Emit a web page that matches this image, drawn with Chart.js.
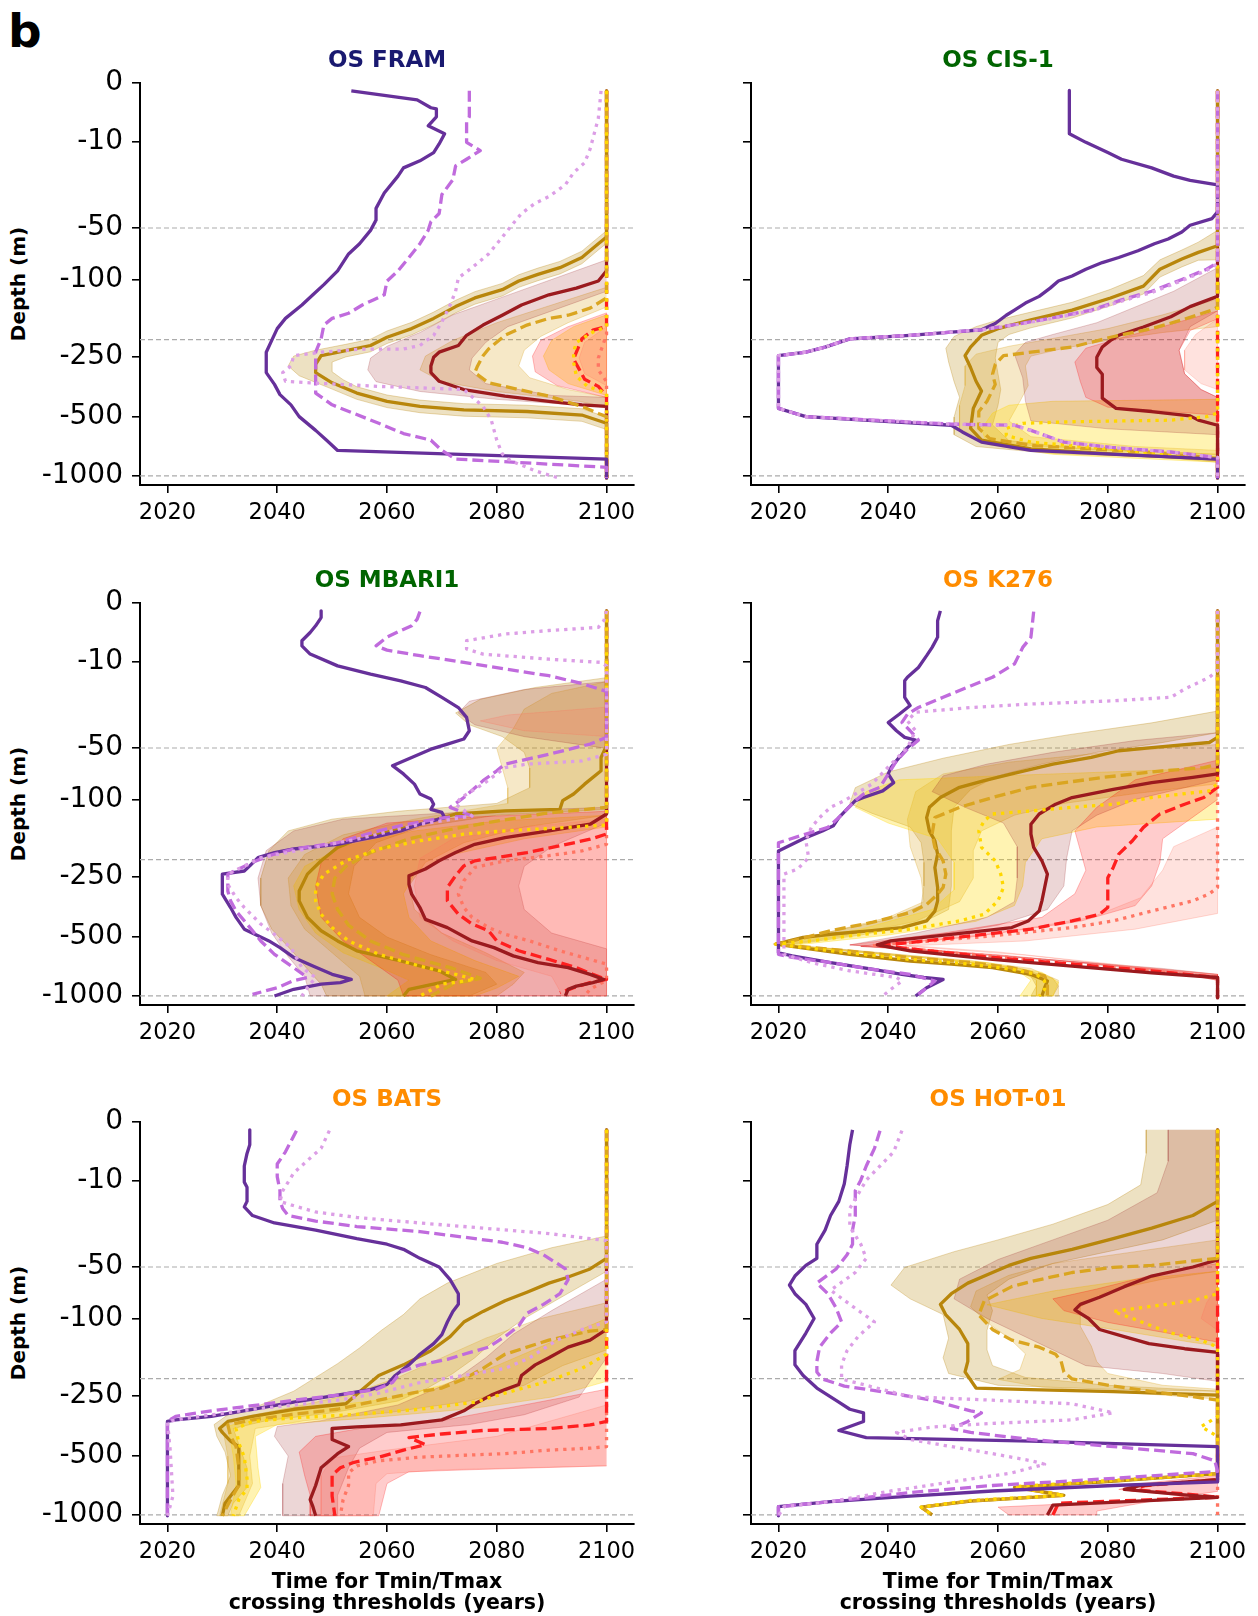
<!DOCTYPE html>
<html>
<head>
<meta charset="utf-8">
<script src="https://cdn.jsdelivr.net/npm/chart.js@4.4.1/dist/chart.umd.min.js"></script>
<style>
  body { margin: 0; background: #fff; width: 1258px; height: 1616px; position: relative; overflow: hidden; font-family: 'DejaVu Sans', sans-serif; }
  canvas { position: absolute; }
  .txt { position: absolute; line-height: 1; white-space: nowrap; font-weight: bold; transform: translate(-50%, -50%); }
</style>
</head>
<body>
<div class="txt" style="left:8px;top:30px;font-size:47px;transform:translate(0,-50%);">b</div>
<script>
// ---- axis data ----
const yearTicks = [2020, 2040, 2060, 2080, 2100];
const depthTickPos = [0, 15, 36.9, 50, 69.6, 84.9, 100];
const depthTickLabels = ['0', '-10', '-50', '-100', '-250', '-500', '-1000'];
const refLinePos = [36.9, 65.3, 100];
const stationNames = ['OS FRAM', 'OS CIS-1', 'OS MBARI1', 'OS K276', 'OS BATS', 'OS HOT-01'];
const stationColors = ['#191970', '#006400', '#006400', '#ff8c00', '#ff8c00', '#ff8c00'];

// ---- OS FRAM ----  [year, depth level]
const framPurpleSolid = [[2053.5,2],[2065.5,4.3],[2068,6.3],[2069,6.6],[2069,8.6],[2067.5,10.9],[2070.5,12.9],[2069.5,15.5],[2068.5,17.7],[2066,19.8],[2063,21.6],[2062,23.7],[2059.5,28],[2058,31.9],[2058,34.9],[2057,37.5],[2055,40.9],[2053,43.5],[2051,47.8],[2048.5,51.3],[2046.5,53.9],[2044.5,56.5],[2041.5,59.9],[2040,62.5],[2039,65.5],[2038,68.5],[2038,71.1],[2038,73.7],[2039.5,76.7],[2040.5,79.3],[2042.5,81.9],[2044,84.9],[2047,88.4],[2049,90.9],[2051,93.5],[2100,95.7],[2100,100.5]];
const framPurpleDash = [[2075,2],[2075,8.6],[2074.5,9.9],[2074.5,15.1],[2077,17.2],[2074.5,19.4],[2072.5,21.1],[2072,24.6],[2070,28.4],[2069.5,33.2],[2068,35.3],[2067.5,37.5],[2066,40.9],[2064,44.4],[2062,47.8],[2060,50.4],[2059.5,53.9],[2057.5,55.2],[2055.5,56.5],[2053,58.6],[2050,59.9],[2048.5,61.6],[2048,65.1],[2047,68.5],[2047,73.7],[2047,78.9],[2050,81.9],[2054,84.1],[2058.5,86.6],[2063,89.2],[2068,90.9],[2070,93.5],[2072.5,95.7],[2100,97.8],[2100,100.5]];
const framPurpleDot = [[2099,2],[2098.5,9],[2097,16.8],[2096,20.3],[2094,22.8],[2092.5,25.9],[2089.5,28.9],[2087,30.6],[2084.5,33.2],[2082.5,36.6],[2080.5,40.1],[2078.5,43.5],[2075.5,47],[2073,49.6],[2072.5,53],[2071.5,56.5],[2070,60.8],[2068.5,64.2],[2066,66.8],[2063,67.7],[2055.5,67.7],[2048,68.5],[2043,69.4],[2042.5,72],[2041,73.7],[2041.5,75.9],[2046,76.3],[2058.5,77.2],[2074,78],[2077.5,82.3],[2079,85.8],[2080,90.9],[2081,94.4],[2082.5,96.1],[2087,98.7],[2091,100.4]];
const framGoldSolid = [[2100,2],[2100,39.2],[2098.5,40.9],[2095.5,44.4],[2091.5,47],[2087.5,48.7],[2084,50.4],[2081,52.6],[2076,54.7],[2072.5,56.9],[2068.5,59.9],[2064.5,62.5],[2060,64.7],[2057,66.8],[2052.5,68.1],[2048,69.4],[2047,71.6],[2047,73.7],[2050,76.3],[2054.5,78.9],[2060,81],[2066,82.3],[2074,83.2],[2085.5,83.6],[2095.5,84.5],[2100,86.6],[2100,100.5]];
const framGoldDash = [[2100,2],[2100,54.7],[2097,57.3],[2093,59.1],[2089.5,59.9],[2085.5,61.6],[2081.5,64.2],[2078.5,67.7],[2077.5,69.4],[2076.5,72],[2076,73.7],[2078.5,76.3],[2084,78],[2089.5,79.7],[2095.5,82.3],[2098.5,84.1],[2100,84.9],[2100,100.5]];
const framYellowDot = [[2100,2],[2100,62],[2097.5,63.4],[2094.5,66],[2094,68.5],[2094,71.1],[2094.5,74.6],[2096.5,77.2],[2100,78.9],[2100,100.5]];
const framRedSolid = [[2100,2],[2100,47.8],[2098.5,50.4],[2094.5,52.2],[2089.5,53.9],[2084.5,56.5],[2081,59.1],[2077.5,61.6],[2074.5,64.2],[2073,66.8],[2069.5,68.5],[2068.5,69.8],[2068,72],[2068,73.7],[2069.5,75.9],[2074,78],[2081.5,79.7],[2089.5,81],[2095.5,81.9],[2100,82.3],[2100,100.5]];
const framRedDash = [[2100,2],[2100,62],[2097.5,62.9],[2095.5,65.1],[2094.5,68.5],[2094,70.3],[2095,72.8],[2096,75.4],[2098.5,77.2],[2100,79.7],[2100,100.5]];
const framRedDot = [[2100,2],[2100,64],[2098.5,70],[2098.5,73],[2100,76],[2100,100.5]];
const framGoldSolidLo = [[2100,37.6],[2098.5,39.3],[2095.5,42.8],[2091.5,45.4],[2087.5,47.1],[2084,48.8],[2081,51],[2076,53.1],[2072.5,55.3],[2068.5,58.3],[2064.5,60.9],[2060,63.1],[2057,65.2],[2052.5,66.5],[2047,68],[2043,69.5],[2042,72],[2044,74.5],[2050,77.9],[2054.5,80.5],[2060,82.6],[2066,83.9],[2074,84.8],[2085.5,85.2],[2095.5,86.1],[2100,88.2]];
const framGoldSolidHi = [[2100,40.8],[2098.5,42.5],[2095.5,46],[2091.5,48.6],[2087.5,50.3],[2084,52],[2081,54.2],[2076,56.3],[2072.5,58.5],[2068.5,61.5],[2064.5,64.1],[2060,66.3],[2057,68.4],[2052.5,69.7],[2050,71],[2050,73.5],[2052,75.5],[2054.5,77.3],[2060,79.4],[2066,80.7],[2074,81.6],[2085.5,82],[2095.5,82.9],[2100,85]];
const framGoldDashLo = [[2100,52],[2090,56.5],[2080,61],[2072,65.5],[2067,69.5],[2066,73],[2070,76],[2080,78.5],[2095,81],[2100,82.5]];
const framGoldDashHi = [[2100,57],[2093,61],[2088,64.5],[2085,68],[2084,72],[2086,75],[2093,78],[2100,80]];
const framYellowDotLo = [[2100,59],[2094,62],[2090,65.5],[2088.5,69.5],[2089.5,73],[2093,76.5],[2100,79.5]];
const framYellowDotHi = [[2100,59],[2100,79.5]];
const framRedSolidLo = [[2100,45],[2090,50],[2080,55],[2072,59],[2066,63.5],[2060,67],[2057,70],[2056.5,73],[2058,76],[2066,78.5],[2080,80.5],[2095,82],[2100,82.5]];
const framRedSolidHi = [[2100,53],[2090,58],[2082,62],[2078,66],[2075.5,70],[2075,73],[2078,76.5],[2090,79.5],[2100,80]];
const framRedDashLo = [[2100,58.5],[2093,62],[2088,65.5],[2086.5,69.5],[2087,73.5],[2091,77],[2100,80]];
const framRedDashHi = [[2100,58.5],[2100,80]];
const framRedDotLo = [[2100,62],[2096,66],[2095,70],[2096,74],[2100,77]];
const framRedDotHi = [[2100,62],[2100,77]];

// ---- OS CIS-1 ----
const cisPurpleSolid = [[2073,1.9],[2073,12.9],[2076,15.1],[2080,17.7],[2082.5,19.4],[2088,21.6],[2092,23.7],[2095,24.8],[2100,25.9],[2100,32.8],[2099,34.5],[2095,36.2],[2093.5,37.9],[2091,39.7],[2088.5,40.9],[2085.5,42.7],[2082,44.4],[2079,45.7],[2076,47.4],[2073.5,49.1],[2071,50.4],[2069.5,52.2],[2067.5,54.3],[2065,56],[2063,57.8],[2061.5,59.1],[2059.5,61.2],[2057,62.8],[2051.5,63.4],[2044,64.2],[2033,65.1],[2028.5,67.2],[2025,68.5],[2020,69.4],[2020,82.8],[2025,84.9],[2051.5,87.1],[2053.5,88.8],[2057,91.4],[2066,93.5],[2100,95.7],[2100,100.5]];
const cisPurpleDash = [[2100,2],[2100,45.7],[2098,47.4],[2093.5,50],[2088,53],[2082.5,55.2],[2077,57.8],[2069.5,59.9],[2062.5,61.6],[2057,62.8],[2051.5,63.4],[2044,64.2],[2033,65.1],[2028.5,67.2],[2025,68.5],[2020,69.4],[2020,82.8],[2025,84.9],[2051.5,86.8],[2063,87.1],[2066,88.4],[2072,91.4],[2080.5,92.7],[2091.5,93.9],[2100,95.3],[2100,100.5]];
const cisPurpleDot = [[2100,2],[2100,46],[2098,47.7],[2093.5,50.3],[2088,53.3],[2082.5,55.5],[2077,58],[2069.5,60],[2062.5,61.7],[2057,62.8],[2051.5,63.4],[2044,64.2],[2033,65.1],[2028.5,67.2],[2025,68.5],[2020,69.4],[2020,82.8],[2025,84.9],[2051.5,86.8],[2063,87.1],[2066,88.4],[2072,91.4],[2080.5,92.7],[2091.5,93.9],[2100,95.3],[2100,100.5]];
const cisGoldSolid = [[2100,2],[2100,41.4],[2096.5,43.1],[2093.5,44.8],[2089.5,47.4],[2086.5,51.7],[2080.5,54.7],[2073.5,57.8],[2066,60.3],[2060,62.5],[2057,64.2],[2055,67.2],[2054,69.4],[2055,72.4],[2056,75.9],[2057,78.4],[2055.5,82.8],[2055,87.9],[2057,90.9],[2066,93.1],[2080.5,94.4],[2100,95.7],[2100,100.5]];
const cisGoldDash = [[2100,2],[2100,57],[2099,57.8],[2093.5,60.3],[2088,62.5],[2080.5,64.7],[2073.5,67.2],[2066,68.5],[2061,69.4],[2059.5,71.6],[2059,74.1],[2059.5,76.7],[2058,81],[2056.5,83.6],[2056.5,87.9],[2058.5,90.5],[2066,92.2],[2088,94],[2100,95.5],[2100,100.5]];
const cisYellowDot = [[2100,2],[2100,84],[2098,84.9],[2091.5,85.8],[2073.5,86.2],[2064.5,86.6],[2061.5,87.9],[2061.5,89.7],[2066,91.4],[2080.5,93.1],[2100,95.7],[2100,100.5]];
const cisRedSolid = [[2100,2],[2100,54.3],[2095,56.9],[2091.5,59.5],[2086.5,62.1],[2082,64.2],[2080.5,65.5],[2079,67.2],[2078,69.8],[2078,72.4],[2079,74.1],[2079,80.2],[2081.5,82.8],[2088,83.6],[2095,84.7],[2096.5,85.8],[2100,87.1],[2100,100.5]];
const cisRedDash = [[2100,2],[2100,100.5]];
const cisRedDot = [[2100,2],[2100,100.5]];
const cisGoldSolidLo = [[2100,37.5],[2096.5,40.5],[2093.5,42.5],[2089.5,45],[2086.5,49],[2080.5,52.5],[2073.5,55.8],[2066,58.3],[2060,60.3],[2056,62],[2052,64.5],[2050.5,67.5],[2051,71],[2052,76],[2053,80],[2052,85],[2052,89.5],[2056,92.5],[2070,94.3],[2090,95.3],[2100,96.5]];
const cisGoldSolidHi = [[2100,45],[2096.5,45.1],[2093.5,46.8],[2089.5,49.4],[2086.5,53.7],[2080.5,56.7],[2073.5,59.8],[2066,62.3],[2062,64],[2060,66],[2059.5,70],[2060,74],[2060.5,78],[2060,82],[2059,87],[2062,91],[2075,93],[2090,93.8],[2100,94.5]];
const cisGoldDashLo = [[2100,55],[2090,59],[2080,62.5],[2070,65],[2062,67],[2056,69],[2054,72],[2054,77],[2053,82],[2053,88],[2058,91.5],[2080,93.5],[2100,94.5]];
const cisGoldDashHi = [[2100,62],[2090,63.5],[2080,65.5],[2072,67.5],[2066,69.5],[2065,72],[2065.5,77],[2064,81],[2062,86],[2066,90],[2085,92.5],[2100,93.5]];
const cisYellowDotLo = [[2100,80.5],[2070,81],[2062,82],[2059,84],[2057,88],[2058,92],[2070,94.5],[2100,96.5]];
const cisYellowDotHi = [[2100,80.5],[2100,96.5]];
const cisRedSolidLo = [[2100,47],[2092,53],[2085,57],[2078,61],[2070,64],[2065,66],[2063,69],[2064.5,75],[2065,81],[2066,86],[2080,88],[2100,89.5]];
const cisRedSolidHi = [[2100,47],[2100,58],[2095,62],[2093,68],[2094,74],[2097,78],[2100,80],[2100,89.5]];
const cisRedDashLo = [[2100,58],[2090,62],[2082,65],[2076,67.5],[2074,71],[2075,76],[2076,80],[2080,82.5],[2090,83.5],[2100,84.5]];
const cisRedDashHi = [[2100,58],[2100,60],[2095,63],[2093,68],[2094,74],[2097,78],[2100,80],[2100,84.5]];
const cisRedDotLo = [[2100,60],[2096,64],[2094,68],[2094,73],[2097,76.5],[2100,78]];
const cisRedDotHi = [[2100,60],[2100,78]];

// ---- OS MBARI1 ----
const mbariPurpleSolid = [[2048,2],[2048,3.7],[2047,5.8],[2046,7.5],[2044.5,9.6],[2044.5,10.9],[2046,13],[2051,16],[2057,18.1],[2062.5,19.8],[2067,21.5],[2070,24],[2073,26.6],[2074.5,29.1],[2075,32.5],[2074,34.6],[2071,35.9],[2068,37.2],[2064.5,39.3],[2061,41.4],[2063,43.5],[2065,46.1],[2066,48.6],[2068,49.9],[2068.5,51.2],[2068,52.5],[2070,53.3],[2070.5,54.6],[2066,56.3],[2062.5,58],[2058.5,59.3],[2054.5,60.4],[2051,61.4],[2043,62.6],[2039.5,63.5],[2036.5,64.8],[2035,66.9],[2034,68.2],[2030,69],[2030,74.1],[2031.5,77.5],[2032.5,80],[2034,83],[2036.5,84.7],[2038.5,86],[2040.5,87.7],[2043,90.2],[2046.5,92.4],[2050,94.5],[2053.5,95.8],[2051.5,96.6],[2048,97],[2043,98.3],[2039.5,100]];
const mbariPurpleDash = [[2066,2.2],[2065.5,4.1],[2064.5,5.8],[2062.5,7],[2060,8.7],[2058,10.9],[2060,12],[2066,13.4],[2074,15.1],[2081.5,16.8],[2089.5,18.5],[2095.5,20.5],[2100,22.5],[2100,34.2],[2097,35.9],[2089.5,38.5],[2081.5,41],[2080,42.7],[2077.5,45.2],[2074,49.5],[2071.5,52],[2075.5,54.2],[2070.5,54.6],[2063,56.5],[2058.5,58],[2051,61],[2043,62.6],[2038.5,64.3],[2035.5,66],[2031,69],[2031,73.3],[2031.5,75.8],[2032.5,78.4],[2034.5,81.7],[2037,86],[2039.5,89.4],[2043,92.8],[2045.5,95.3],[2043,96.1],[2040,97.9],[2035.5,99.6]];
const mbariPurpleDot = [[2100,2],[2099.5,4.5],[2098.5,6.2],[2089.5,7],[2081.5,7.9],[2074.5,9.6],[2074.5,11.7],[2077.5,13],[2089.5,14.3],[2099,15.1],[2100,16],[2100,38.5],[2095.5,40.2],[2085.5,41],[2081.5,41.9],[2077.5,46.1],[2073.5,49.5],[2072.5,51.2],[2075.5,54.2],[2066,56.3],[2054.5,60.1],[2037,64.8],[2031,69],[2031,71.6],[2032.5,75],[2034,77.5],[2037,81.7],[2039.5,84.3],[2042.5,87.7],[2044.5,92.8],[2047,95.3],[2045.5,97.9],[2044.5,100]];
const mbariGoldSolid = [[2100,2],[2100,36.3],[2099,39.3],[2099,42.7],[2096,46.1],[2094,48.6],[2092,50.3],[2091.5,52.5],[2081.5,52.9],[2072.5,53.7],[2066,56.3],[2058.5,58.8],[2054,60.5],[2051,62.2],[2048,65.6],[2045.5,69],[2044,73.3],[2044,75.8],[2045.5,80],[2048,83.4],[2051,86],[2054.5,88.5],[2062.5,91.1],[2069.5,93.6],[2072.5,95.8],[2064,98.3],[2063,100]];
const mbariGoldDash = [[2100,2],[2100,52],[2089,53.5],[2080,55.5],[2072,57.5],[2064,60],[2057,63.5],[2052.5,67],[2050.5,70],[2050,74],[2051,78],[2053,82],[2057,86],[2063,89.5],[2072,93],[2077,95.5],[2072,97],[2068,100]];
const mbariYellowDot = [[2100,2],[2100,56.5],[2093,57.1],[2081.5,58],[2074,58.8],[2066,60.5],[2058.5,62.6],[2052.5,65.6],[2048.5,69],[2047,72.4],[2047,75.8],[2048,79.2],[2050,82.6],[2053,86],[2058.5,89.4],[2066,92.4],[2072.5,94.5],[2076,95.8],[2070,97],[2066,100]];
const mbariRedSolid = [[2100,2],[2100,53.7],[2097,56.3],[2089.5,58],[2081.5,59.7],[2076,61.4],[2072.5,63.5],[2069.5,65.6],[2067,67.7],[2064,69.4],[2064,71.6],[2064.5,74.1],[2066,77.5],[2067,80.5],[2071,82.6],[2075.5,86],[2079.5,87.7],[2083,89.8],[2087.5,91.5],[2093,92.8],[2097,94.5],[2099.5,95.8],[2097.5,96.6],[2094.5,97.5],[2093,98.3],[2092.5,100]];
const mbariRedDash = [[2100,2],[2100,58.8],[2097,60.1],[2091.5,61.8],[2085.5,63.5],[2080,64.8],[2076,65.6],[2074,66.9],[2072.5,69.4],[2071,72.4],[2071,75.8],[2073,79.2],[2075.5,81.7],[2078.5,83.4],[2080,86],[2084,88.5],[2089.5,90.7],[2094.5,92.8],[2097.5,94.5],[2100,95.8],[2097,96.6],[2094,97.9],[2091.5,99.2]];
const mbariRedDot = [[2100,2],[2100,61.4],[2095.5,63.1],[2089.5,64.3],[2081.5,65.6],[2076,67.3],[2074,70.7],[2073,74.1],[2074,77.5],[2075.5,80],[2078.5,82.6],[2081.5,84.3],[2086,86],[2091.5,88.5],[2100,91.9],[2100,96],[2097,98.3],[2096,100]];
const mbariGoldSolidLo = [[2100,19],[2087,21.5],[2077,24.5],[2072.5,28],[2075,31],[2081,34],[2085,38],[2086,42],[2086,47],[2080,51],[2062,53],[2050,55],[2042,58],[2038.5,63],[2037,70],[2037,77],[2039,83],[2043,89],[2046,94],[2048,97],[2049,100]];
const mbariGoldSolidHi = [[2100,19],[2100,52.5],[2080,54],[2066,57],[2058,61],[2054,67],[2053,74],[2055,80],[2060,85],[2068,89.5],[2078,94],[2080,97],[2075,100]];
const mbariGoldDashLo = [[2100,20],[2090,23],[2085,27],[2083,32],[2080,37],[2081,42],[2082,47],[2082,51],[2065,55],[2052,59],[2045,64],[2042,70],[2042.5,77],[2045,83],[2050,89],[2055,95],[2056,100]];
const mbariGoldDashHi = [[2100,20],[2100,54],[2085,57],[2074,61],[2067,66],[2064,72],[2065,78],[2070,84],[2078,89],[2085,94],[2083,97],[2080,100]];
const mbariYellowDotLo = [[2100,54],[2080,55.5],[2065,58],[2052,62],[2045,67],[2043,72],[2044,78],[2047,84],[2052,89],[2060,93.5],[2064,96],[2060,100]];
const mbariYellowDotHi = [[2100,54],[2100,57],[2085,60],[2072,64],[2065,69],[2063,74],[2064,80],[2068,86],[2076,91],[2084,95],[2080,98],[2076,100]];
const mbariRedSolidLo = [[2100,20],[2085,22],[2075,25],[2073,28],[2076,31],[2085,34],[2095,36],[2100,37],[2100,52],[2070,53.5],[2052,55],[2043,58],[2038,63],[2036.5,70],[2037,77],[2039,84],[2042,90],[2045,95],[2046,100]];
const mbariRedSolidHi = [[2100,20],[2100,56],[2090,62],[2085,67],[2084,72],[2085,78],[2090,84],[2100,88],[2100,100]];
const mbariRedDashLo = [[2100,53],[2075,54.5],[2060,56],[2052,60],[2048,66],[2047,72],[2048,80],[2052,86],[2058,92],[2062,96],[2063,100]];
const mbariRedDashHi = [[2100,53],[2100,100]];
const mbariRedDotLo = [[2100,26.5],[2082,28.5],[2077,30],[2085,32.5],[2100,34],[2100,55],[2085,57],[2072,60],[2066,65],[2065,72],[2066,80],[2072,86],[2080,91],[2090,95],[2092,100]];
const mbariRedDotHi = [[2100,26.5],[2100,100]];

// ---- OS K276 ----
const k276PurpleSolid = [[2049.5,2],[2049,4.5],[2049,8.7],[2048,11.3],[2047,13.4],[2045.5,16.4],[2043.5,18.9],[2043,19.8],[2043,24],[2044,26.1],[2042,28.3],[2040,30.4],[2041.5,32.5],[2043,34.2],[2045,34.9],[2043.5,36.8],[2042,39.3],[2040.5,41.9],[2040,43.5],[2041,45.7],[2039,47.8],[2035.5,49.5],[2034,50.3],[2031,54.6],[2030,56.7],[2028,58],[2025,59.7],[2020,63.1],[2020,89],[2022.5,89.8],[2029.5,91.5],[2037,93.2],[2042.5,94.5],[2046.5,95.3],[2050,95.8],[2047,97.9],[2045,100]];
const k276PurpleDash = [[2066.5,2.2],[2066,8.7],[2064.5,11.3],[2063,15.5],[2059,18.9],[2055,21.1],[2050,24],[2045.5,26.6],[2043.5,28.3],[2042.5,30.4],[2044,32.5],[2045.5,34.9],[2043.5,37.2],[2041.5,40.2],[2040,43.5],[2038.5,46.9],[2035.5,48.6],[2034,50.3],[2031,54.6],[2029,57.1],[2025,58.8],[2020,61],[2020,89.4],[2022.5,90.2],[2029.5,91.5],[2037,93.2],[2044,94.5],[2048.5,96.2],[2047,97.9],[2045.5,99.6]];
const k276PurpleDot = [[2100,2],[2100,17.2],[2098.5,18.9],[2094,21.9],[2091.5,24],[2081,24.9],[2066,25.7],[2055,26.6],[2045,27.8],[2043.5,30],[2045,32.5],[2043.5,36.8],[2040.5,41],[2037,46.1],[2034,48.6],[2032,50.3],[2029.5,52],[2027.5,54.6],[2026,57.1],[2025,60.5],[2025.5,64.8],[2023.5,67.7],[2021,69],[2021,89.4],[2026,91.5],[2033,93.6],[2041.5,95.3],[2042.5,96.2],[2040.5,98.3],[2039,100]];
const k276GoldSolid = [[2100,2],[2100,34.2],[2098.5,35.5],[2088,36.8],[2082,37.6],[2077,39.3],[2070,41],[2062.5,43.5],[2057.5,45.2],[2053,46.9],[2049.5,49.5],[2047.5,52],[2047,54.6],[2047.5,58],[2048.5,60.5],[2049,63.9],[2048.5,67.3],[2049,72.4],[2049,75.8],[2048.5,78.4],[2047,80.9],[2042.5,82.6],[2037,83.4],[2029.5,84.3],[2024.5,85.1],[2019.5,86.8],[2026,88.1],[2033,89.4],[2044,91.1],[2051.5,91.9],[2059,92.8],[2066,94.5],[2069,96.2],[2068.5,97.9],[2068,100]];
const k276GoldDash = [[2100,2],[2100,41],[2097.5,41.9],[2090,42.7],[2079,44.4],[2066,46.9],[2059,49.5],[2053,52],[2048.5,54.6],[2048,58.8],[2048.5,62.2],[2050,65.6],[2050.5,69],[2050,72.4],[2049,74.1],[2047,76.7],[2044,78.8],[2037,81.3],[2029.5,83.4],[2022.5,86],[2019.5,86.8],[2029.5,88.1],[2044,90.2],[2055,91.5],[2062.5,92.8],[2068.5,94.9],[2069,97],[2069,100]];
const k276YellowDot = [[2100,2],[2100,46],[2098.5,47.8],[2088,49.5],[2081,51.2],[2073.5,52],[2066,52.9],[2059,53.7],[2057.5,55.4],[2056.5,58],[2057,62.2],[2059.5,65.6],[2060.5,69],[2061,72.4],[2060,75.8],[2057.5,79.2],[2053,80.9],[2044,83],[2033,84.7],[2026,86],[2019.5,86.8],[2029.5,88.5],[2044,90.7],[2055,91.9],[2062.5,93.2],[2067,94.5],[2068.5,96.2],[2068.5,98.3],[2067.5,100]];
const k276RedSolid = [[2100,2],[2100,43.5],[2095.5,44.4],[2088,45.7],[2081,47.4],[2073.5,49.5],[2070.5,51.2],[2067.5,53.7],[2066,56.3],[2066,58.8],[2066.5,62.2],[2068,65.6],[2069,69],[2068.5,72.4],[2068,75.8],[2067.5,78.4],[2065.5,80.9],[2062.5,82.6],[2051.5,84.3],[2040.5,86],[2038,87],[2044,88.5],[2059,90.7],[2073.5,92.4],[2088,94.1],[2100,95.3],[2100,100.5]];
const k276RedDash = [[2100,2],[2100,46.9],[2097.5,49.5],[2094,51.2],[2089.5,53.7],[2086.5,57.1],[2084.5,60.5],[2082,63.9],[2081,67.3],[2080,69.9],[2080,77.5],[2078.5,79.2],[2073.5,80.9],[2066,83],[2055,84.7],[2044,86.4],[2038,87.1],[2059,90.2],[2073.5,91.9],[2088,93.6],[2100,95.3],[2100,100.5]];
const k276RedDot = [[2100,2],[2100,72.4],[2098.5,74],[2095.5,75.8],[2088,78.4],[2081,80.9],[2073.5,82.6],[2059,84.7],[2044,86.4],[2037,87.1],[2051.5,89],[2066,90.7],[2081,92.8],[2100,95.3],[2100,100.5]];
const k276GoldSolidLo = [[2100,27.5],[2088,30.5],[2073,33.5],[2062,36],[2050,39.5],[2040,43],[2034,47],[2033,51],[2037,53.5],[2044,57],[2046,61],[2046.5,66],[2046.5,72],[2046,77],[2040,80.5],[2030,83.5],[2019,86.8],[2030,88],[2045,90],[2060,92.5],[2066,95],[2067,97.5],[2066,100]];
const k276GoldSolidHi = [[2100,33],[2090,35.5],[2078,38],[2068,41],[2060,44],[2055,47.5],[2052,52],[2051.5,58],[2051.5,66],[2051.5,72],[2051,78],[2046,81.5],[2035,84.5],[2021,87.2],[2035,89],[2052,91],[2064,93],[2070,95.5],[2071,97.5],[2070,100]];
const k276GoldDashLo = [[2100,36],[2080,38],[2062,40.5],[2050,43.5],[2045,48],[2043.5,55],[2044,62],[2046,70],[2046.5,76],[2040,80],[2030,83.5],[2020,86.8],[2035,88.5],[2050,90.5],[2063,93],[2067,96],[2067,100]];
const k276GoldDashHi = [[2100,46],[2085,48.5],[2072,51],[2063,54],[2057,58],[2055.5,63],[2055.5,70],[2053,76],[2045,81],[2033,84.5],[2021,87],[2038,89],[2055,91],[2066,93],[2071,96],[2071,100]];
const k276YellowDotLo = [[2100,42],[2080,43],[2060,44],[2042,45],[2036,48],[2034,52],[2040,56],[2049,60],[2052,66],[2052,73],[2048,78],[2035,83],[2019.5,86.8],[2035,88.8],[2052,91],[2063,93],[2066,96],[2064,100]];
const k276YellowDotHi = [[2100,55],[2078,57],[2068,60],[2065,66],[2064.5,72],[2063,77],[2056,81],[2040,84.5],[2022,87.2],[2040,89.5],[2058,91.5],[2068,94],[2071,96.5],[2070,100]];
const k276RedSolidLo = [[2100,33],[2085,35],[2070,38],[2058,41],[2050,44],[2048,48],[2054,52],[2061,56],[2063.5,62],[2063.5,70],[2063,76],[2058,80],[2045,84],[2033,87],[2045,88.3],[2070,90.8],[2090,93],[2100,94.5]];
const k276RedSolidHi = [[2100,45],[2085,50],[2078,54],[2073.5,58],[2072.5,65],[2072,72],[2069,78],[2060,82],[2045,85.5],[2035,87.4],[2050,88.6],[2075,91.6],[2095,94.6],[2100,96]];
const k276RedDashLo = [[2100,40],[2085,45],[2078,52],[2074,58],[2075,63],[2076,68],[2074,74],[2068,80],[2050,84],[2033,87],[2050,88.5],[2080,92],[2100,94.5]];
const k276RedDashHi = [[2100,50],[2095,55],[2090,60],[2089.5,66],[2088,72],[2085,77],[2075,81],[2055,85],[2035,87.4],[2060,89.5],[2090,93.5],[2100,96]];
const k276RedDotLo = [[2100,57],[2092,62],[2090,68],[2086,75],[2077,80],[2060,84],[2040,86.8],[2060,88.8],[2085,92.5],[2100,94.5]];
const k276RedDotHi = [[2100,57],[2100,79],[2085,83],[2065,86],[2043,87.3],[2065,89.6],[2090,93.6],[2100,96]];

// ---- OS BATS ----
const batsPurpleSolid = [[2035,2],[2035,5.8],[2034.5,8],[2034,11.2],[2034,15.3],[2034.5,16.6],[2034.5,20.2],[2034,21.6],[2035.5,23.8],[2039.5,25.7],[2047,27.5],[2054.5,29.7],[2060,31.1],[2063,32.4],[2066,34.7],[2069.5,36.9],[2071.5,40.1],[2073,43.7],[2073,46.4],[2072,48.2],[2071,50.9],[2070,54.1],[2068.5,56.4],[2066,59.1],[2064,61.8],[2061.5,64.5],[2060,66.8],[2059,67.2],[2057,68.1],[2051,69.5],[2043,71.3],[2035.5,73.1],[2028,74.9],[2021.5,75.8],[2020,76.2],[2020,100.2]];
const batsPurpleDash = [[2043.5,2.2],[2042.5,4.9],[2041.5,7.6],[2040,10.7],[2040,13.9],[2040.5,17.5],[2040.5,20.2],[2041,22],[2042,23.8],[2047,25.2],[2054.5,26.6],[2066,27.9],[2074,29.3],[2081,30.6],[2085.5,32],[2088.5,33.8],[2091,36],[2092.5,37.4],[2093,40.1],[2091.5,43.7],[2088.5,46.4],[2085.5,48.7],[2084,51.9],[2081.5,54.6],[2078.5,57.3],[2074,59.1],[2071,60.4],[2066,61.8],[2062.5,63.6],[2061,66.3],[2058,68.1],[2051,69.5],[2043,70.8],[2035.5,72.2],[2028,73.5],[2021.5,74.9],[2020,76.2],[2020,100.2]];
const batsPurpleDot = [[2049.5,2.2],[2048,6.7],[2045.5,9.8],[2043,13],[2041,17.5],[2040.5,20.2],[2042.5,21.1],[2047,22.9],[2054.5,24.3],[2066,25.7],[2077.5,27],[2089.5,28.4],[2100,30.2],[2100,50.9],[2095.5,52.8],[2091,55.5],[2086,60],[2081.5,62.7],[2074,64.5],[2066,66.3],[2058.5,69],[2051,70.8],[2035.5,73.1],[2024,75.3],[2020,76.2],[2020.5,83.5],[2021,95.2],[2020,100.2]];
const batsGoldSolid = [[2100,2],[2100,34.7],[2097,37.4],[2092.5,39.7],[2089.5,41],[2085.5,43.3],[2081.5,45.5],[2077.5,48.2],[2074,50.9],[2071.5,54.6],[2068,58.2],[2063,61.8],[2058.5,64.5],[2055.5,68.1],[2052.5,71.7],[2043,73.1],[2035.5,74.9],[2031,76.2],[2029.5,78],[2030,79],[2031.5,81.2],[2033,82.6],[2033,88.9],[2033,92.5],[2031.5,95.2],[2030.5,97],[2030,100.2]];
const batsGoldDash = [[2100,2],[2100,52.8],[2097,53.2],[2089.5,55.5],[2081.5,59.1],[2077.5,62.7],[2074,65.4],[2070,67.7],[2064.5,69],[2058.5,70.8],[2051,73.1],[2043,74.4],[2035.5,75.8],[2031,77.1],[2031.5,79.9],[2032.5,82.6],[2033,88],[2033,92.5],[2031.5,96.1],[2030,100.2]];
const batsYellowDot = [[2100,2],[2100,59.1],[2095.5,62.7],[2089.5,65.9],[2081.5,69],[2076,71.3],[2066,73.1],[2054.5,74.4],[2043,75.3],[2035.5,76.2],[2032.5,78],[2033,81.7],[2034,85.3],[2034.5,90.7],[2034.5,93.4],[2033,96.1],[2032,100.2]];
const batsRedSolid = [[2100,2],[2100,52.8],[2097,55.5],[2093,57.3],[2089.5,60],[2087,61.8],[2084.5,64.5],[2084,66.8],[2081.5,68.1],[2079,69.5],[2076,71.7],[2074,73.5],[2070,75.8],[2062.5,77.1],[2054.5,77.6],[2050,78],[2050,80.8],[2053,82.6],[2051,84.4],[2049.5,86.2],[2048,88],[2047,92.5],[2046,96.1],[2046.5,97.9],[2047,100.2]];
const batsRedDash = [[2100,2],[2100,76.2],[2097,77.1],[2089.5,78],[2077.5,78.5],[2070,79.4],[2064,80.3],[2067,82.1],[2063,83.5],[2058.5,85.3],[2054,86.6],[2051.5,88],[2050,89.8],[2050,95.2],[2050.5,100.2]];
const batsRedDot = [[2100,2],[2100,82.6],[2097,83],[2089.5,83.5],[2081.5,84.4],[2074,84.8],[2066,85.3],[2058.5,86.2],[2054.5,87.5],[2053,89.3],[2053,92.5],[2052,96.1],[2051.5,100.2]];
const batsGoldSolidLo = [[2100,29],[2090,32],[2080,36],[2071,41],[2066,45],[2063,49],[2059,53],[2055,57.5],[2051,61.5],[2047,65],[2043,68.5],[2037,72],[2031,74.5],[2028.5,77],[2029,80],[2030.5,84],[2031.5,90],[2030,95],[2029,100.2]];
const batsGoldSolidHi = [[2100,38],[2095,42],[2090,46],[2085,50],[2080,55],[2076,60],[2072,64],[2067,68],[2062,71],[2050,74],[2038,76],[2032,78],[2033,82],[2034.5,88],[2034.5,93],[2032,97],[2031,100.2]];
const batsGoldDashLo = [[2100,46],[2088,50],[2078,55],[2070,60],[2062,65],[2053,69.5],[2043,72.5],[2034,75],[2030,77.5],[2031,85],[2031,92],[2029.5,100.2]];
const batsGoldDashHi = [[2100,58],[2092,62],[2085,67],[2075,71],[2060,74],[2045,76],[2036,78],[2035,85],[2035.5,92],[2033,100.2]];
const batsYellowDotLo = [[2100,50],[2090,56],[2080,62],[2070,67],[2060,70.5],[2045,73],[2035,75.5],[2031,77.5],[2032,85],[2032.5,92],[2031.5,100.2]];
const batsYellowDotHi = [[2100,66],[2090,70],[2075,73],[2055,75.5],[2040,77],[2036,80],[2036.5,88],[2037,93],[2034,100.2]];
const batsRedSolidLo = [[2100,40],[2090,48],[2083,54],[2078,60],[2072,66],[2062,72],[2048,76],[2040,77.5],[2039.5,80],[2042,85],[2041,92],[2041,100.2]];
const batsRedSolidHi = [[2100,60],[2095,70],[2085,74.5],[2075,77],[2060,79],[2055,83],[2053,88],[2051,95],[2051,100.2]];
const batsRedDashLo = [[2100,68],[2085,72],[2070,76],[2055,78],[2047,80],[2044,84],[2045,90],[2046,95],[2046,100.2]];
const batsRedDashHi = [[2100,87.5],[2075,88.5],[2064,89],[2060,92],[2058.5,100.2]];
const batsRedDotLo = [[2100,72],[2080,80],[2060,83.5],[2050,85.5],[2048,90],[2048,100.2]];
const batsRedDotHi = [[2100,87.5],[2070,88.5],[2060,89.5],[2058,92],[2057.5,100.2]];

// ---- OS HOT-01 ----
const hotPurpleSolid = [[2033.5,2],[2033,5.8],[2032.5,11.2],[2032,15.7],[2031,20.2],[2029.5,23.8],[2028.5,27.5],[2027,31.1],[2027,34.7],[2025,36.5],[2023,39.2],[2022,41.5],[2023,43.7],[2025,46.4],[2026.5,50],[2025,53.7],[2023,58.2],[2023,61.8],[2024.5,64.5],[2027,67.7],[2031,71.3],[2033,73.1],[2035.5,74],[2035.5,76.2],[2031,78.5],[2036,80.3],[2066,81.2],[2100,82.6],[2100,91.6],[2081,92.5],[2059,93.9],[2044,95.2],[2029.5,96.6],[2020,97.9],[2020,100.2]];
const hotPurpleDash = [[2038.5,2.2],[2037.5,6.7],[2036,11.2],[2035,14.8],[2034,17.5],[2034,20.2],[2034,23.8],[2033.5,27.5],[2033.5,31.1],[2032.5,33.8],[2030.5,37.4],[2027,41],[2029,43.7],[2030.5,47.3],[2031.5,50.9],[2029.5,53.7],[2027.5,57.3],[2027,60.9],[2027,63.6],[2028,65.4],[2032,67.2],[2040.5,69],[2048,70.8],[2055,73.5],[2057,74],[2054.5,76.2],[2051.5,78],[2055,79],[2066,80.8],[2081,82.6],[2095.5,84.4],[2099.5,86.2],[2100,88.9],[2081,90.7],[2059,92.5],[2044,94.3],[2029.5,96.6],[2020,97.9],[2020,100.2]];
const hotPurpleDot = [[2042.5,2.2],[2041,7.6],[2038.5,11.2],[2036,14.8],[2034.5,18.4],[2033,22],[2033,26.6],[2035,31.1],[2036,34.7],[2034,38.3],[2029.5,42.8],[2033,46.4],[2037.5,50.9],[2034.5,54.6],[2032.5,58.2],[2031.5,61.8],[2031.5,65.4],[2044,69.9],[2059,70.8],[2073.5,71.7],[2081,74],[2073.5,75.8],[2059,76.7],[2048,77.6],[2041.5,79],[2044,80.8],[2051.5,82.6],[2059,84.4],[2066,86.2],[2068.5,87.1],[2062.5,89.3],[2051.5,91.6],[2040.5,93.9],[2029.5,96.6],[2021,97.9],[2020,100.2]];
const hotGoldSolid = [[2100,2],[2100,20.2],[2095.5,23.8],[2088,27],[2081,29.7],[2073.5,32.4],[2066,34.7],[2062,36.5],[2059,38.3],[2054.5,41],[2051.5,43.7],[2049.5,46.4],[2050.5,49.1],[2053,52.8],[2054.5,56.4],[2054.5,60.9],[2054,63.6],[2056,67.7],[2066,68.1],[2081,68.6],[2100,69.5],[2100,89.5],[2080,91.5],[2063,93],[2072,95],[2055,96.5],[2046,98],[2048,100]];
const hotGoldDash = [[2100,2],[2100,34.7],[2088,36.5],[2081,37],[2073.5,38.3],[2066,40.6],[2062.5,41.9],[2057.5,45.5],[2056.5,49.1],[2059,52.8],[2062.5,55.5],[2067.5,57.3],[2070.5,59.1],[2071.5,60.9],[2072,63.6],[2073.5,65.4],[2081,67.2],[2088,68.6],[2095.5,69.9],[2100,70.8],[2100,89.5],[2080,91.4],[2063,92.9],[2072,95],[2055,96.4],[2046,98],[2048,100]];
const hotYellowDot = [[2100,2],[2100,43.7],[2095.5,45.5],[2088,46.9],[2081,48.2],[2084.5,50],[2088,51.9],[2091.5,53.7],[2097,55.5],[2100,57.3],[2100,75],[2097,77.5],[2100,80],[2100,89.5],[2080,91.3],[2063,92.8],[2072,95],[2055,96.3],[2046,98],[2048,100]];
const hotRedSolid = [[2100,2],[2100,35.1],[2095.5,36.9],[2088,39.2],[2083,41.9],[2078.5,44.6],[2075,46.4],[2074,47.8],[2076.5,50],[2078.5,52.8],[2083,54.6],[2087.5,56.4],[2094,57.7],[2100,58.6],[2100,91],[2086,92.5],[2083,93.5],[2095,95],[2100,95.5],[2070,97.5],[2069,100]];
const hotRedDash = [[2100,2],[2100,91],[2087,92.5],[2084,93.5],[2097,95],[2100,95.5],[2071,97],[2070,100]];
const hotRedDot = [[2100,2],[2100,100]];
const hotGoldSolidLo = [[2087,2],[2087,8],[2086,16],[2080,21],[2070,26],[2060,30],[2052,33],[2043,37],[2040.5,41.5],[2044,45],[2050,49],[2051,55],[2050,60],[2051,64],[2060,67],[2080,68],[2100,68.5]];
const hotGoldSolidHi = [[2100,2],[2100,25],[2090,30],[2080,33],[2070,36],[2062,40],[2058,44],[2059,48],[2058,53],[2058,58],[2059,62],[2065,65],[2080,67],[2100,68.5]];
const hotGoldDashLo = [[2100,30],[2085,33],[2070,36],[2062,39],[2056,43],[2055,47],[2058,51],[2062,55],[2065,59],[2064,63],[2060,65.5],[2068,67.5],[2085,69],[2100,70.5]];
const hotGoldDashHi = [[2100,38],[2090,40],[2080,43],[2075,47],[2075,52],[2077,57],[2078,61],[2080,64],[2090,67],[2100,68]];
const hotYellowDotLo = [[2100,38],[2085,40],[2070,43],[2058,46.5],[2068,50],[2082,53],[2095,56],[2100,57]];
const hotYellowDotHi = [[2100,38],[2100,57]];
const hotRedSolidLo = [[2091,2],[2091,10],[2089,18],[2080,25],[2070,30],[2060,35],[2053,40],[2052,45],[2058,50],[2064,54],[2070,58],[2076,62],[2090,64],[2100,66]];
const hotRedSolidHi = [[2100,2],[2100,66]];
const hotRedDashLo = [[2100,36],[2088,39],[2078,42.5],[2070,45],[2072,48],[2080,51],[2092,54],[2100,56],[2100,90],[2086,92],[2082,93.5],[2096,95.5],[2075,97],[2060,98],[2062,100]];
const hotRedDashHi = [[2100,36],[2100,94],[2090,96],[2078,99],[2078,100]];
const hotRedDotLo = [[2100,42],[2098,46],[2097,50],[2100,53]];
const hotRedDotHi = [[2100,42],[2100,53]];

// ---- per panel grouping ----
const panelLines = [
  { purpleSolid: framPurpleSolid, purpleDash: framPurpleDash, purpleDot: framPurpleDot, goldSolid: framGoldSolid, goldDash: framGoldDash, yellowDot: framYellowDot, redSolid: framRedSolid, redDash: framRedDash, redDot: framRedDot },
  { purpleSolid: cisPurpleSolid, purpleDash: cisPurpleDash, purpleDot: cisPurpleDot, goldSolid: cisGoldSolid, goldDash: cisGoldDash, yellowDot: cisYellowDot, redSolid: cisRedSolid, redDash: cisRedDash, redDot: cisRedDot },
  { purpleSolid: mbariPurpleSolid, purpleDash: mbariPurpleDash, purpleDot: mbariPurpleDot, goldSolid: mbariGoldSolid, goldDash: mbariGoldDash, yellowDot: mbariYellowDot, redSolid: mbariRedSolid, redDash: mbariRedDash, redDot: mbariRedDot },
  { purpleSolid: k276PurpleSolid, purpleDash: k276PurpleDash, purpleDot: k276PurpleDot, goldSolid: k276GoldSolid, goldDash: k276GoldDash, yellowDot: k276YellowDot, redSolid: k276RedSolid, redDash: k276RedDash, redDot: k276RedDot },
  { purpleSolid: batsPurpleSolid, purpleDash: batsPurpleDash, purpleDot: batsPurpleDot, goldSolid: batsGoldSolid, goldDash: batsGoldDash, yellowDot: batsYellowDot, redSolid: batsRedSolid, redDash: batsRedDash, redDot: batsRedDot },
  { purpleSolid: hotPurpleSolid, purpleDash: hotPurpleDash, purpleDot: hotPurpleDot, goldSolid: hotGoldSolid, goldDash: hotGoldDash, yellowDot: hotYellowDot, redSolid: hotRedSolid, redDash: hotRedDash, redDot: hotRedDot }
];
const panelBands = [
  { goldSolid: [framGoldSolidLo, framGoldSolidHi], goldDash: [framGoldDashLo, framGoldDashHi], yellowDot: [framYellowDotLo, framYellowDotHi], redSolid: [framRedSolidLo, framRedSolidHi], redDash: [framRedDashLo, framRedDashHi], redDot: [framRedDotLo, framRedDotHi] },
  { goldSolid: [cisGoldSolidLo, cisGoldSolidHi], goldDash: [cisGoldDashLo, cisGoldDashHi], yellowDot: [cisYellowDotLo, cisYellowDotHi], redSolid: [cisRedSolidLo, cisRedSolidHi], redDash: [cisRedDashLo, cisRedDashHi], redDot: [cisRedDotLo, cisRedDotHi] },
  { goldSolid: [mbariGoldSolidLo, mbariGoldSolidHi], goldDash: [mbariGoldDashLo, mbariGoldDashHi], yellowDot: [mbariYellowDotLo, mbariYellowDotHi], redSolid: [mbariRedSolidLo, mbariRedSolidHi], redDash: [mbariRedDashLo, mbariRedDashHi], redDot: [mbariRedDotLo, mbariRedDotHi] },
  { goldSolid: [k276GoldSolidLo, k276GoldSolidHi], goldDash: [k276GoldDashLo, k276GoldDashHi], yellowDot: [k276YellowDotLo, k276YellowDotHi], redSolid: [k276RedSolidLo, k276RedSolidHi], redDash: [k276RedDashLo, k276RedDashHi], redDot: [k276RedDotLo, k276RedDotHi] },
  { goldSolid: [batsGoldSolidLo, batsGoldSolidHi], goldDash: [batsGoldDashLo, batsGoldDashHi], yellowDot: [batsYellowDotLo, batsYellowDotHi], redSolid: [batsRedSolidLo, batsRedSolidHi], redDash: [batsRedDashLo, batsRedDashHi], redDot: [batsRedDotLo, batsRedDotHi] },
  { goldSolid: [hotGoldSolidLo, hotGoldSolidHi], goldDash: [hotGoldDashLo, hotGoldDashHi], yellowDot: [hotYellowDotLo, hotYellowDotHi], redSolid: [hotRedSolidLo, hotRedSolidHi], redDash: [hotRedDashLo, hotRedDashHi], redDot: [hotRedDotLo, hotRedDotHi] }
];

// ---- styles ----
const lineStyle = {
  purpleSolid: { color: '#66309a', dash: [] },
  purpleDash: { color: '#c06bdd', dash: [11, 5] },
  purpleDot: { color: '#dc9ee6', dash: [3.3, 5] },
  goldSolid: { color: '#b8860b', dash: [] },
  goldDash: { color: '#daa520', dash: [11, 5] },
  yellowDot: { color: '#ffd700', dash: [3.3, 5] },
  redSolid: { color: '#9b1a1e', dash: [] },
  redDash: { color: '#ff1f1f', dash: [11, 5] },
  redDot: { color: '#ff7563', dash: [3.3, 5] }
};
const bandStyle = {
  goldSolid: ['rgba(184,134,11,0.25)', 'rgba(184,134,11,0.3)'],
  goldDash: ['rgba(218,165,32,0.25)', 'rgba(218,165,32,0.3)'],
  yellowDot: ['rgba(255,215,0,0.3)', 'rgba(255,215,0,0.35)'],
  redSolid: ['rgba(150,26,30,0.18)', 'rgba(150,26,30,0.22)'],
  redDash: ['rgba(255,0,0,0.2)', 'rgba(255,0,0,0.25)'],
  redDot: ['rgba(255,110,90,0.2)', 'rgba(255,110,90,0.25)']
};
const bandOrder = ['goldSolid', 'goldDash', 'yellowDot', 'redSolid', 'redDash', 'redDot'];
const lineOrder = ['redDot', 'redDash', 'redSolid', 'goldSolid', 'goldDash', 'yellowDot', 'purpleSolid', 'purpleDash', 'purpleDot'];

// ---- layout (px) ----
const colLeft = [140, 751];
const rowTop = [83, 602.5, 1122.4];
const plotW = 494, plotH = 402;
const yAxisW = 110, padTop = 20, padRight = 6, xAxisH = 45;

Chart.defaults.font.family = "'DejaVu Sans', sans-serif";

const toXY = arr => arr.map(p => ({ x: p[0], y: p[1] }));

function addText(text, cx, cy, size, color, rotate) {
  const d = document.createElement('div');
  d.className = 'txt';
  d.textContent = text;
  d.style.left = cx + 'px';
  d.style.top = cy + 'px';
  d.style.fontSize = size + 'px';
  d.style.color = color || '#000';
  if (rotate) d.style.transform = 'translate(-50%,-50%) rotate(-90deg)';
  document.body.appendChild(d);
}

function buildDatasets(p) {
  const sets = [];
  refLinePos.forEach(v => {
    sets.push({ data: [{ x: 2015, y: v }, { x: 2105, y: v }], borderColor: '#ababab', borderWidth: 1.2, borderDash: [5, 3], pointRadius: 0, fill: false });
  });
  bandOrder.forEach(k => {
    const [lo, hi] = panelBands[p][k];
    sets.push({
      data: toXY(lo.concat(hi.slice().reverse())),
      fill: 'shape', backgroundColor: bandStyle[k][0], borderColor: bandStyle[k][1],
      borderWidth: 1, pointRadius: 0, tension: 0
    });
  });
  lineOrder.forEach(k => {
    sets.push({
      data: toXY(panelLines[p][k]), fill: false, borderColor: lineStyle[k].color,
      borderDash: lineStyle[k].dash, borderWidth: 3.3, pointRadius: 0, tension: 0,
      borderJoinStyle: 'round', borderCapStyle: 'butt'
    });
  });
  // Chart.js draws the first dataset on top
  return sets.reverse();
}

for (let p = 0; p < 6; p++) {
  const col = p % 2, row = Math.floor(p / 2);
  const cv = document.createElement('canvas');
  const cw = yAxisW + plotW + padRight, ch = padTop + plotH + xAxisH;
  cv.width = cw; cv.height = ch;
  cv.style.left = (colLeft[col] - yAxisW) + 'px';
  cv.style.top = (rowTop[row] - padTop) + 'px';
  cv.style.width = cw + 'px'; cv.style.height = ch + 'px';
  document.body.appendChild(cv);

  new Chart(cv.getContext('2d'), {
    type: 'line',
    data: { datasets: buildDatasets(p) },
    options: {
      animation: false, responsive: false, events: [],
      layout: { padding: { left: 0, right: padRight, top: padTop, bottom: 0 } },
      plugins: { legend: { display: false }, tooltip: { enabled: false } },
      scales: {
        x: {
          type: 'linear', min: 2015, max: 2105,
          afterBuildTicks: a => { a.ticks = yearTicks.map(v => ({ value: v })); },
          ticks: { font: { size: 22.5 }, color: '#000', padding: 7, maxRotation: 0, autoSkip: false, callback: v => String(v) },
          grid: { drawOnChartArea: false, tickLength: 8, color: '#000', lineWidth: 1.6 },
          border: { color: '#000', width: 2 },
          afterFit: s => { s.height = xAxisH; s.paddingLeft = 0; s.paddingRight = 0; }
        },
        y: {
          type: 'linear', reverse: true, min: 0, max: 102.3,
          afterBuildTicks: a => { a.ticks = depthTickPos.map(v => ({ value: v })); },
          ticks: {
            font: { size: 28 }, color: '#000', padding: 9, autoSkip: false,
            callback: (v, i) => col === 0 ? depthTickLabels[i] : ''
          },
          grid: { drawOnChartArea: false, tickLength: 8, color: '#000', lineWidth: 1.6 },
          border: { color: '#000', width: 2 },
          afterFit: s => { s.width = yAxisW; s.paddingTop = 0; s.paddingBottom = 0; }
        }
      }
    }
  });

  const cx = colLeft[col] + plotW / 2;
  addText(stationNames[p], cx, rowTop[row] - 24, 23, stationColors[p]);
  if (col === 0) addText('Depth (m)', 17.7, rowTop[row] + 201, 20, '#000', true);
  if (row === 2) {
    addText('Time for Tmin/Tmax', cx, 1580.5, 20.5, '#000');
    addText('crossing thresholds (years)', cx, 1602, 20.5, '#000');
  }
}
</script>
</body>
</html>
